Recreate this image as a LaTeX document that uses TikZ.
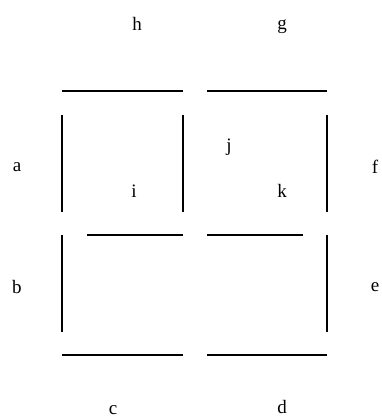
\documentclass[tikz,border=0pt]{standalone}
\usepackage{fontspec}
\setmainfont{Liberation Serif}
\usetikzlibrary{calc}
\definecolor{ink}{HTML}{000000}

\begin{document}
\begin{tikzpicture}[x=1pt, y=-1pt, seg/.style={ink, line width=1.6pt}, lbl/.style={ink, font=\fontsize{19}{22}\selectfont}]
      \useasboundingbox (0, 0) rectangle (382, 418);
      % horizontal segments
      \draw[seg] (62, 91) -- (183, 91);
      \draw[seg] (207, 91) -- (327, 91);
      \draw[seg] (87, 235) -- (183, 235);
      \draw[seg] (207, 235) -- (303, 235);
      \draw[seg] (62, 355) -- (183, 355);
      \draw[seg] (207, 355) -- (327, 355);
      % vertical segments
      \foreach \x in {62, 183, 327} {\draw[seg] (\x, 115) -- (\x, 212);}
      \foreach \x in {62, 327} {\draw[seg] (\x, 235) -- (\x, 332);}
      % segment letters
      \node[lbl] (h) at (137, 24) {h};
      \node[lbl] (g) at (282, 27) {g};
      \node[lbl] (a) at (17, 167) {a};
      \node[lbl] (f) at (375, 167) {f};
      \node[lbl] (j) at (229, 147) {j};
      \node[lbl] (i) at (134, 191) {i};
      \node[lbl] (k) at (282, 191) {k};
      \node[lbl] (b) at (17, 287) {b};
      \node[lbl] (e) at (375, 287) {e};
      \node[lbl] (c) at (113, 410) {c};
      \node[lbl] (d) at (282, 407) {d};
    \end{tikzpicture}
\end{document}
